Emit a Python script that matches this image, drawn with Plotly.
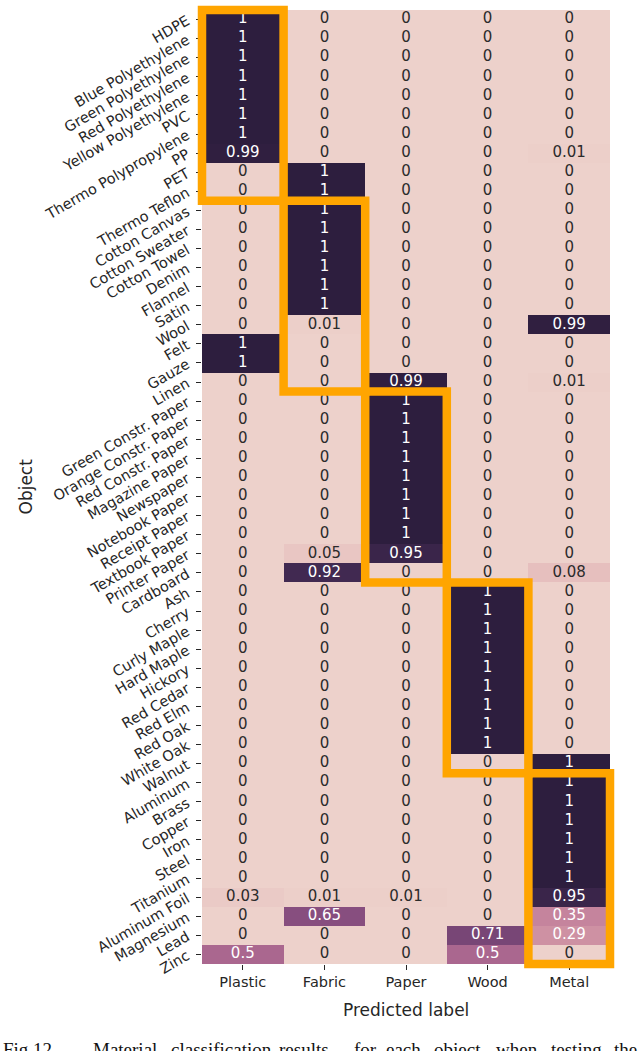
import plotly.graph_objects as go

# ---------------- data ----------------
objects = [
    "HDPE", "Blue Polyethylene", "Green Polyethylene", "Red Polyethylene",
    "Yellow Polyethylene", "PVC", "Thermo Polypropylene", "PP", "PET",
    "Thermo Teflon", "Cotton Canvas", "Cotton Sweater", "Cotton Towel", "Denim",
    "Flannel", "Satin", "Wool", "Felt", "Gauze", "Linen",
    "Green Constr. Paper", "Orange Constr. Paper", "Red Constr. Paper",
    "Magazine Paper", "Newspaper", "Notebook Paper", "Receipt Paper",
    "Textbook Paper", "Printer Paper", "Cardboard",
    "Ash", "Cherry", "Curly Maple", "Hard Maple", "Hickory", "Red Cedar",
    "Red Elm", "Red Oak", "White Oak", "Walnut",
    "Aluminum", "Brass", "Copper", "Iron", "Steel", "Titanium",
    "Aluminum Foil", "Magnesium", "Lead", "Zinc",
]
labels = ["Plastic", "Fabric", "Paper", "Wood", "Metal"]

plastic = [1, 1, 1, 1, 1, 1, 1, 0.99, 0, 0,
           0, 0, 0, 0, 0, 0, 0, 1, 1, 0,
           0, 0, 0, 0, 0, 0, 0, 0, 0, 0,
           0, 0, 0, 0, 0, 0, 0, 0, 0, 0,
           0, 0, 0, 0, 0, 0, 0.03, 0, 0, 0.5]
fabric = [0, 0, 0, 0, 0, 0, 0, 0, 1, 1,
          1, 1, 1, 1, 1, 1, 0.01, 0, 0, 0,
          0, 0, 0, 0, 0, 0, 0, 0, 0.05, 0.92,
          0, 0, 0, 0, 0, 0, 0, 0, 0, 0,
          0, 0, 0, 0, 0, 0, 0.01, 0.65, 0, 0]
paper = [0, 0, 0, 0, 0, 0, 0, 0, 0, 0,
         0, 0, 0, 0, 0, 0, 0, 0, 0, 0.99,
         1, 1, 1, 1, 1, 1, 1, 1, 0.95, 0,
         0, 0, 0, 0, 0, 0, 0, 0, 0, 0,
         0, 0, 0, 0, 0, 0, 0.01, 0, 0, 0]
wood = [0, 0, 0, 0, 0, 0, 0, 0, 0, 0,
        0, 0, 0, 0, 0, 0, 0, 0, 0, 0,
        0, 0, 0, 0, 0, 0, 0, 0, 0, 0,
        1, 1, 1, 1, 1, 1, 1, 1, 1, 0,
        0, 0, 0, 0, 0, 0, 0, 0, 0.71, 0.5]
metal = [0, 0, 0, 0, 0, 0, 0, 0.01, 0, 0,
         0, 0, 0, 0, 0, 0, 0.99, 0, 0, 0.01,
         0, 0, 0, 0, 0, 0, 0, 0, 0, 0.08,
         0, 0, 0, 0, 0, 0, 0, 0, 0, 1,
         1, 1, 1, 1, 1, 1, 0.95, 0.35, 0.29, 0]

# highlighted groups: (column index, first row index, number of rows)
box_cols = [0, 1, 2, 3, 4]
box_starts = [0, 10, 20, 30, 40]
box_sizes = [10, 10, 10, 10, 10]

caption_words = ["Fig.", "12.", "Material", "classification", "results", "for",
                 "each", "object", "when", "testing", "the"]
caption_x_px = [2, 32, 92, 170, 278, 353, 385, 433, 495, 550, 613]

# ---------------- figure ----------------
columns = [plastic, fabric, paper, wood, metal]
z = [[col[i] for col in columns] for i in range(len(objects))]

colorscale = [
    [0.0, "rgb(237,209,203)"],
    [0.125, "rgb(226,181,182)"],
    [0.25, "rgb(212,153,167)"],
    [0.375, "rgb(193,127,154)"],
    [0.5, "rgb(170,103,143)"],
    [0.625, "rgb(141,82,130)"],
    [0.75, "rgb(110,64,113)"],
    [0.875, "rgb(77,47,91)"],
    [1.0, "rgb(45,30,62)"],
]

FONT = "DejaVu Sans"
W, H = 640, 1051
ML, MR, MT, MB = 202, 30, 10, 87
PW, PH = W - ML - MR, H - MT - MB


def py(px):
    """pixel row -> paper fraction"""
    return (MT + PH - px) / PH


def px_(x):
    """pixel column -> paper fraction"""
    return (x - ML) / PW


fig = go.Figure()
fig.add_trace(go.Heatmap(
    z=z, x=labels, y=objects, colorscale=colorscale, zmin=0, zmax=1,
    showscale=False, hoverinfo="skip",
))

tx, ty, tt, tc = [], [], [], []
for i, name in enumerate(objects):
    for j, lab in enumerate(labels):
        v = columns[j][i]
        tx.append(lab)
        ty.append(name)
        tt.append(f"{v:g}")
        tc.append("#ffffff" if v >= 0.2 else "#2b2b2b")
fig.add_trace(go.Scatter(
    x=tx, y=ty, text=tt, mode="text",
    textfont=dict(family=FONT, size=15, color=tc),
    hoverinfo="skip", showlegend=False,
))

n_rows, n_cols = len(objects), len(labels)
for c, s, n in zip(box_cols, box_starts, box_sizes):
    fig.add_shape(
        type="rect", xref="x domain", yref="y domain",
        x0=c / n_cols, x1=(c + 1) / n_cols,
        y0=1 - (s + n) / n_rows, y1=1 - s / n_rows,
        line=dict(color="#FFA500", width=8.5), fillcolor="rgba(0,0,0,0)",
        layer="above",
    )

# axis titles
fig.add_annotation(text="Predicted label", xref="paper", yref="paper",
                   x=0.5, y=py(1010),
                   xanchor="center", yanchor="middle", showarrow=False,
                   font=dict(family=FONT, size=17, color="#262626"))
fig.add_annotation(text="Object", xref="paper", yref="paper",
                   x=px_(25.5), y=0.5, textangle=-90,
                   xanchor="center", yanchor="middle", showarrow=False,
                   font=dict(family=FONT, size=17, color="#262626"))

for wtxt, x in zip(caption_words, caption_x_px):
    fig.add_annotation(text=wtxt, xref="paper", yref="paper",
                       x=px_(x), y=py(1038),
                       xanchor="left", yanchor="top", showarrow=False,
                       borderpad=0,
                       font=dict(family="Liberation Serif", size=19, color="#111111"))

fig.update_xaxes(
    type="category", categoryorder="array", categoryarray=labels,
    range=[-0.5, n_cols - 0.5], showgrid=False, zeroline=False, showline=False,
    ticks="outside", ticklen=5, tickwidth=1, tickcolor="#262626",
    ticklabelstandoff=0,
    tickfont=dict(family=FONT, size=14.5, color="#262626"), fixedrange=True,
)
fig.update_yaxes(
    type="category", categoryorder="array", categoryarray=objects,
    range=[n_rows - 0.5, -0.5], showgrid=False, zeroline=False, showline=False,
    ticks="outside", ticklen=5, tickwidth=1, tickcolor="#262626",
    tickangle=-30, ticklabelstandoff=6,
    tickfont=dict(family=FONT, size=14.5, color="#262626"), fixedrange=True,
)
fig.update_layout(
    width=W, height=H, margin=dict(l=ML, r=MR, t=MT, b=MB, autoexpand=False),
    plot_bgcolor="white", paper_bgcolor="white", showlegend=False,
)

fig.write_html(
    "out.html",
    config={"displayModeBar": False},
    post_script="document.body.style.margin='0';document.body.style.overflow='hidden';",
)
